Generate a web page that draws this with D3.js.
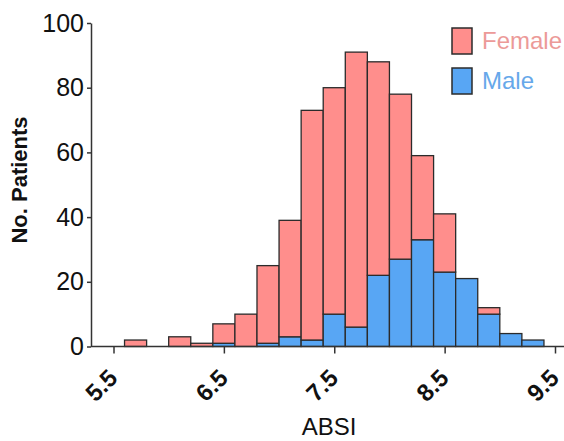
<!DOCTYPE html>
<html>
<head>
<meta charset="utf-8">
<script src="https://cdn.jsdelivr.net/npm/d3@7/dist/d3.min.js"></script>
<style>
  html, body { margin: 0; padding: 0; background: #fff; }
  svg { display: block; font-family: "Liberation Sans", Arial, sans-serif; }
</style>
</head>
<body>
<svg id="chart" width="564" height="441"></svg>
<script>
// ABSI histogram, bin width 0.2, stacked by sex
const binStarts = [5.6, 5.8, 6.0, 6.2, 6.4, 6.6, 6.8, 7.0, 7.2, 7.4, 7.6, 7.8, 8.0, 8.2, 8.4, 8.6, 8.8, 9.0, 9.2];
const binWidth = 0.2;
const maleCounts   = [0, 0, 0, 0, 1, 0, 1, 3, 2, 10, 6, 22, 27, 33, 23, 21, 10, 4, 2];
const femaleCounts = [2, 0, 3, 1, 6, 10, 24, 36, 71, 70, 85, 66, 51, 26, 18, 0, 2, 0, 0];
const xTicks = [5.5, 6.5, 7.5, 8.5, 9.5];
const yTicks = [0, 20, 40, 60, 80, 100];
const seriesNames = ["Female", "Male"];

const colors = { Female: "#ff8e8c", Male: "#58a6f4" };
const textColors = { Female: "#ec9a98", Male: "#66a8ea" };
const edge = "#2b2b2b";

const svg = d3.select("#chart");

const x = d3.scaleLinear().domain([5.5, 9.5]).range([113.5, 555]);
const y = d3.scaleLinear().domain([0, 100]).range([346.5, 23]);

// bars: male at the bottom, female stacked above
const bins = binStarts.map((s, i) => ({ x0: s, x1: s + binWidth, male: maleCounts[i], female: femaleCounts[i] }));

const g = svg.append("g");
bins.forEach(b => {
  if (b.male > 0) {
    g.append("rect")
      .attr("x", x(b.x0)).attr("width", x(b.x1) - x(b.x0))
      .attr("y", y(b.male)).attr("height", y(0) - y(b.male))
      .attr("fill", colors.Male).attr("stroke", edge).attr("stroke-width", 1.3);
  }
  if (b.female > 0) {
    g.append("rect")
      .attr("x", x(b.x0)).attr("width", x(b.x1) - x(b.x0))
      .attr("y", y(b.male + b.female)).attr("height", y(b.male) - y(b.male + b.female))
      .attr("fill", colors.Female).attr("stroke", edge).attr("stroke-width", 1.3);
  }
});

// x axis
const xAxis = svg.append("g").attr("transform", `translate(0,${y(0)})`)
  .call(d3.axisBottom(x).tickValues(xTicks).tickSize(7).tickSizeOuter(0).tickFormat(d3.format(".1f")));
xAxis.select(".domain").remove();
xAxis.append("line")
  .attr("x1", 91).attr("x2", 564)
  .attr("stroke", "#333").attr("stroke-width", 1.5);
xAxis.selectAll(".tick line").attr("stroke", "#333").attr("stroke-width", 1.5);
xAxis.selectAll(".tick text")
  .attr("fill", "#111")
  .style("font-size", "24px").style("font-weight", "bold")
  .attr("text-anchor", "end")
  .attr("y", 0).attr("dy", 0)
  .attr("transform", "translate(5,33) rotate(-45)");

// y axis
const yAxis = svg.append("g").attr("transform", "translate(91,0)")
  .call(d3.axisLeft(y).tickValues(yTicks).tickSize(4).tickSizeOuter(0).tickPadding(3));
yAxis.select(".domain").attr("stroke", "#333").attr("stroke-width", 1.5);
yAxis.selectAll(".tick line").attr("stroke", "#333").attr("stroke-width", 1.5);
yAxis.selectAll(".tick text")
  .attr("fill", "#111")
  .style("font-size", "25px");

// axis titles
svg.append("text")
  .attr("x", 329).attr("y", 435)
  .attr("text-anchor", "middle")
  .attr("fill", "#111")
  .style("font-size", "24px")
  .text("ABSI");

svg.append("text")
  .attr("transform", "translate(27,180) rotate(-90)")
  .attr("text-anchor", "middle")
  .attr("fill", "#111")
  .style("font-size", "22px").style("font-weight", "bold")
  .text("No. Patients");

// legend
const legend = svg.append("g");
seriesNames.forEach((name, i) => {
  const top = 28 + i * 40;
  legend.append("rect")
    .attr("x", 452).attr("y", top).attr("width", 20).attr("height", 26)
    .attr("fill", colors[name]).attr("stroke", edge).attr("stroke-width", 1.5);
  legend.append("text")
    .attr("x", 482).attr("y", top + 21)
    .attr("fill", textColors[name])
    .style("font-size", "24px")
    .text(name);
});
</script>
</body>
</html>
